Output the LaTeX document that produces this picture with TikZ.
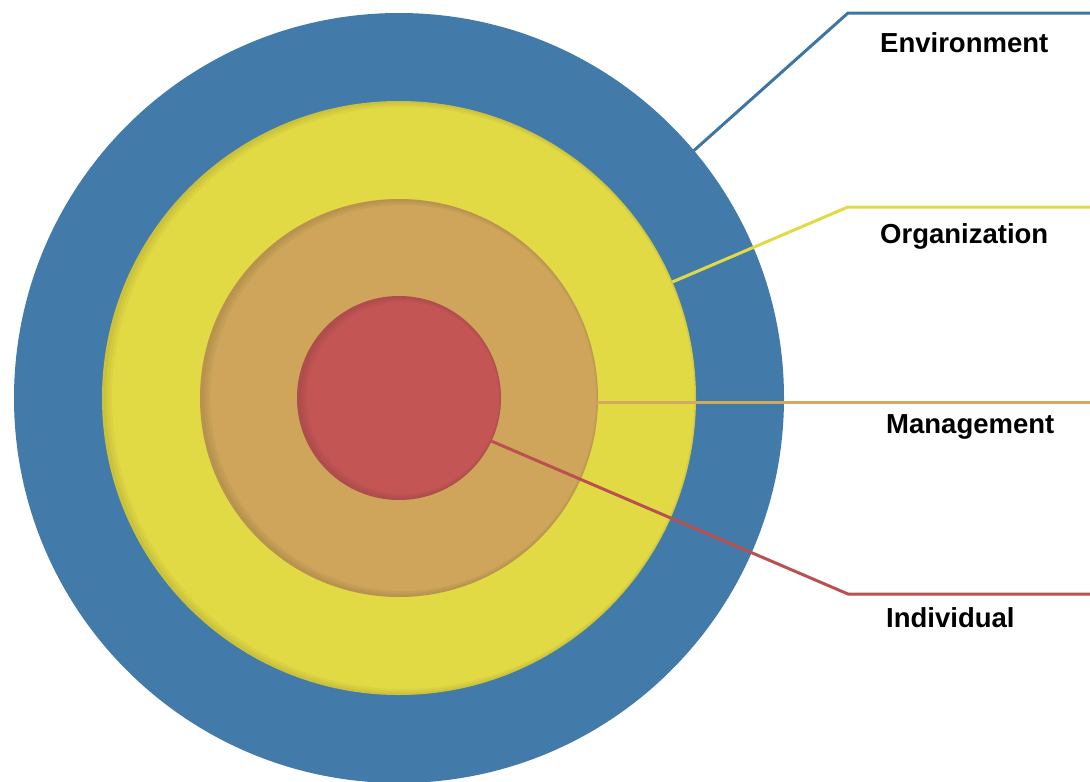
\documentclass[tikz,border=0pt]{standalone}
\usepackage{fontspec}
\setmainfont{Liberation Sans}
\usepackage{tikz}
\usetikzlibrary{positioning}

\definecolor{envblue}{RGB}{66,123,170}
\definecolor{orgyellow}{RGB}{226,218,69}
\definecolor{mgmttan}{RGB}{206,165,90}
\definecolor{indred}{RGB}{196,85,85}

\begin{document}
\begin{tikzpicture}[x=1pt, y=-1pt,
    disc/.style={circle, inner sep=0pt, outer sep=0pt, minimum size=#1},
    lead/.style={line width=3pt, draw=#1},
    glow/.style={line width=#1, black, opacity=.035},
    lbl/.style={anchor=west, inner sep=0pt, font=\fontsize{27.5}{33}\selectfont\bfseries}]
  \useasboundingbox (0,0) rectangle (1090,782);

  % rings
  \node (env) [disc=770pt, fill=envblue] at (399,398) {};
  \node (org) [disc=594pt, fill=orgyellow] at (env.center) {};
  \begin{scope}
    \clip (org.center) circle (297);
    \draw [glow=4pt] ([xshift=2pt]org.center) circle (297);
    \draw [glow=8pt] ([xshift=3pt]org.center) circle (297);
    \draw [glow=12pt] ([xshift=4pt]org.center) circle (297);
  \end{scope}
  \node (mgmt) [disc=398pt, fill=mgmttan] at (env.center) {};
  \begin{scope}
    \clip (mgmt.center) circle (199);
    \draw [glow=4pt] ([xshift=2pt]mgmt.center) circle (199);
    \draw [glow=8pt] ([xshift=3pt]mgmt.center) circle (199);
    \draw [glow=12pt] ([xshift=4pt]mgmt.center) circle (199);
  \end{scope}
  \node (ind) [disc=204pt, fill=indred] at (env.center) {};
  \begin{scope}
    \clip (ind.center) circle (102);
    \draw [glow=4pt] ([xshift=2pt]ind.center) circle (102);
    \draw [glow=8pt] ([xshift=3pt]ind.center) circle (102);
    \draw [glow=12pt] ([xshift=4pt]ind.center) circle (102);
  \end{scope}

  % leader bends and ends
  \coordinate (envk) at (848,13);
  \coordinate (enve) at (1090,13);
  \coordinate (orgk) at (848,207);
  \coordinate (orge) at (1090,207);
  \coordinate (mgmts) at (597,402);
  \coordinate (mgmte) at (1090,402);
  \coordinate (indk) at (848,594);
  \coordinate (inde) at (1090,594);

  \draw [lead=envblue!95!black] (env.40.5) -- (envk) -- (enve);
  \draw [lead=orgyellow] (org.23) -- (orgk) -- (orge);
  \draw [lead=mgmttan!95!white] (mgmts) -- (mgmte);
  \draw [lead=indred!95!black] (ind.-25) -- (indk) -- (inde);

  % labels
  \node (lenv) [lbl] at (880,43) {Environment};
  \node (lorg) [lbl] at (880,236) {Organization};
  \node (lmgmt) [lbl] at (886,427) {Management};
  \node (lind) [lbl] at (886,618) {Individual};
\end{tikzpicture}
\end{document}
